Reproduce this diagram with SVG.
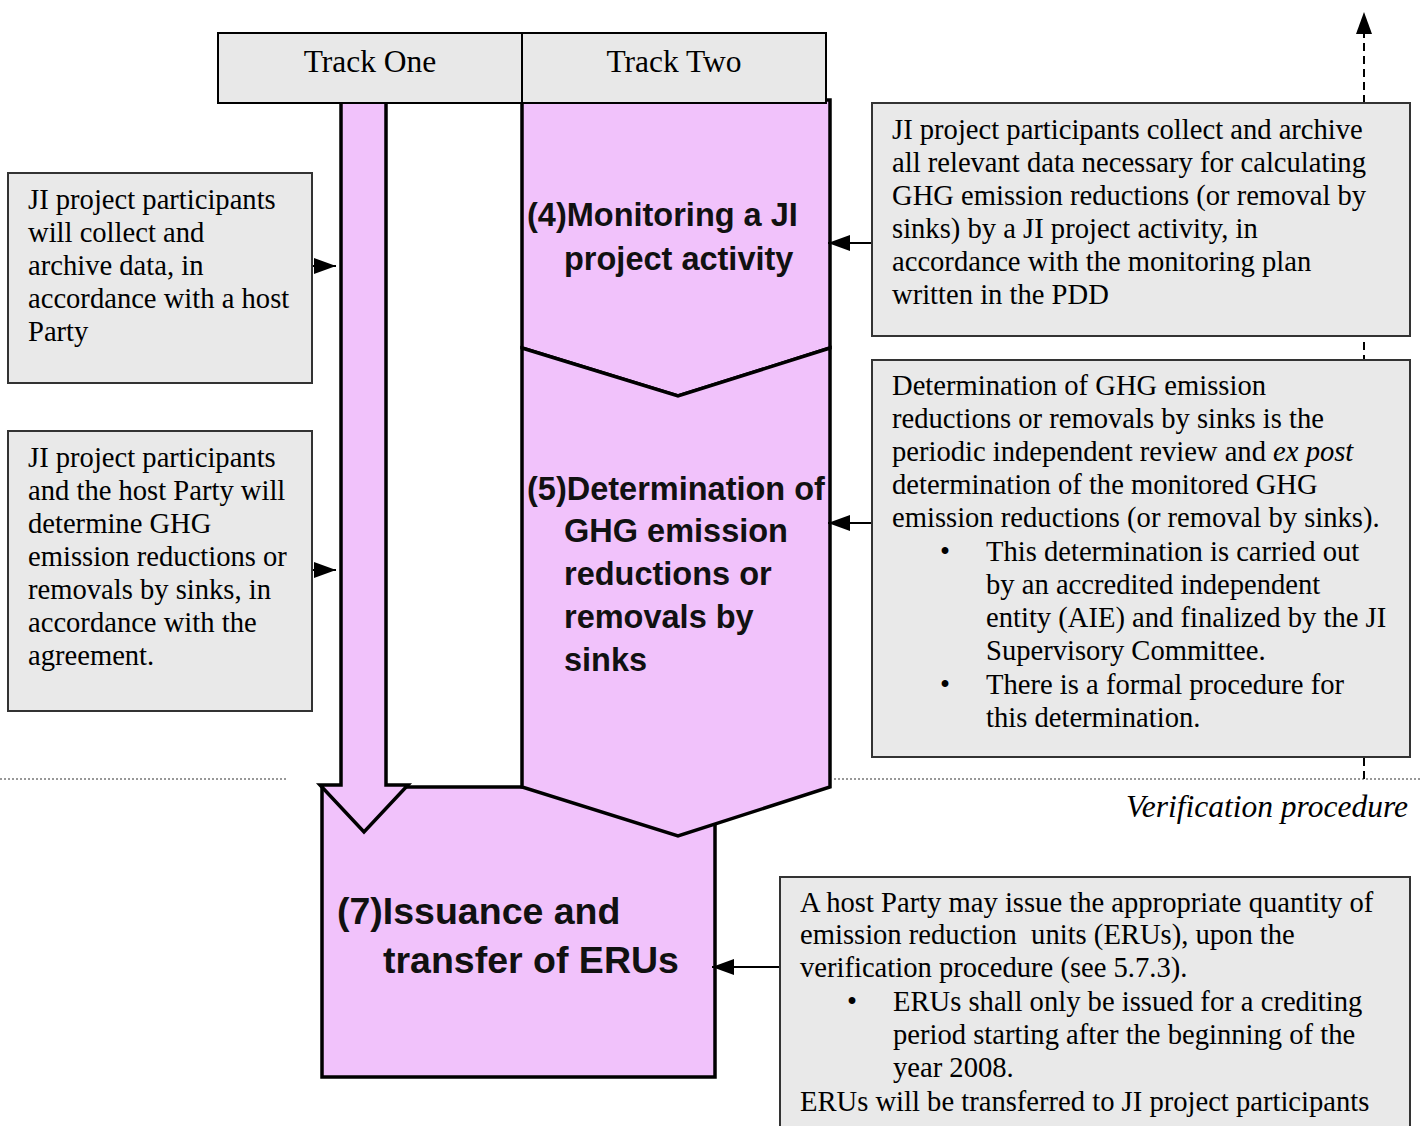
<svg xmlns="http://www.w3.org/2000/svg" width="1420" height="1126" viewBox="0 0 1420 1126">
  <style>
    .note { fill: #e9e9e9; stroke: #333; stroke-width: 2; }
    .stage { fill: #f1c2fb; stroke: #000; stroke-width: 3.5; stroke-linejoin: miter; }
    .serif { font-family: "Liberation Serif", "Times New Roman", serif; font-size: 28.6px; fill: #000; }
    .bold { font-family: "Liberation Sans", Arial, sans-serif; font-size: 32.5px; font-weight: bold; fill: #111; }
    .big { font-size: 37.5px; }
    .title { font-size: 31.5px; }
    .link { stroke: #000; stroke-width: 2; fill: none; }
    .dots { stroke: #777; stroke-width: 1.5; stroke-dasharray: 2 2; fill: none; }
  </style>
  <defs>
    <marker id="head" viewBox="0 0 22 16" refX="22" refY="8" markerWidth="22" markerHeight="16" markerUnits="userSpaceOnUse" orient="auto">
      <path d="M0,0 L22,8 L0,16 Z" fill="#000"/>
    </marker>
  </defs>

  <rect width="1420" height="1126" fill="#fff"/>

  <!-- verification boundary -->
  <g id="boundary">
    <line class="dots" x1="0" y1="779" x2="287" y2="779"/>
    <line class="dots" x1="834" y1="779" x2="1420" y2="779"/>
    <text class="serif title" x="1408" y="817" text-anchor="end" font-style="italic">Verification procedure</text>
  </g>

  <!-- (7) issuance -->
  <g id="issuance">
    <rect class="stage" x="322" y="787" width="393" height="290"/>
    <text class="bold big">
      <tspan x="337" y="924">(7)Issuance and</tspan>
      <tspan x="383" y="973">transfer of ERUs</tspan>
    </text>
  </g>

  <!-- Track One flow arrow -->
  <g id="track-one-arrow">
    <polygon class="stage" points="341,100 386,100 386,785 408,785 364,832 320,785 341,785"/>
  </g>

  <!-- (4) monitoring -->
  <g id="monitoring">
    <polygon class="stage" points="522,100 830,100 830,348 678,396 522,348"/>
    <text class="bold">
      <tspan x="527" y="226">(4)Monitoring a JI</tspan>
      <tspan x="564" y="270">project activity</tspan>
    </text>
  </g>

  <!-- (5) determination -->
  <g id="determination">
    <polygon class="stage" points="522,348 678,396 830,348 830,787 678,836 522,787"/>
    <text class="bold">
      <tspan x="527" y="500">(5)Determination of</tspan>
      <tspan x="564" y="542">GHG emission</tspan>
      <tspan x="564" y="585">reductions or</tspan>
      <tspan x="564" y="628">removals by</tspan>
      <tspan x="564" y="671">sinks</tspan>
    </text>
  </g>

  <!-- track header -->
  <g id="header">
    <rect x="218" y="33" width="608" height="70" fill="#e8e8e8" stroke="#000" stroke-width="2"/>
    <line x1="522" y1="33" x2="522" y2="103" stroke="#000" stroke-width="2"/>
    <text class="serif title" x="370" y="72" text-anchor="middle">Track One</text>
    <text class="serif title" x="674" y="72" text-anchor="middle">Track Two</text>
  </g>

  <!-- connectors -->
  <g id="connectors">
    <line class="link" x1="1364" y1="779" x2="1364" y2="12" stroke-dasharray="8 5" marker-end="url(#head)"/>
    <line class="link" x1="312" y1="266" x2="336" y2="266" marker-end="url(#head)"/>
    <line class="link" x1="312" y1="570" x2="336" y2="570" marker-end="url(#head)"/>
    <line class="link" x1="872" y1="243" x2="828" y2="243" marker-end="url(#head)"/>
    <line class="link" x1="872" y1="523" x2="828" y2="523" marker-end="url(#head)"/>
    <line class="link" x1="780" y1="967" x2="712" y2="967" marker-end="url(#head)"/>
  </g>

  <!-- Track One notes -->
  <g id="note-collect">
    <rect class="note" x="8" y="173" width="304" height="210"/>
    <text class="serif">
      <tspan x="28" y="209">JI project participants</tspan>
      <tspan x="28" y="242">will collect and</tspan>
      <tspan x="28" y="275">archive data, in</tspan>
      <tspan x="28" y="308">accordance with a host</tspan>
      <tspan x="28" y="341">Party</tspan>
    </text>
  </g>

  <g id="note-determine">
    <rect class="note" x="8" y="431" width="304" height="280"/>
    <text class="serif">
      <tspan x="28" y="467">JI project participants</tspan>
      <tspan x="28" y="500">and the host Party will</tspan>
      <tspan x="28" y="533">determine GHG</tspan>
      <tspan x="28" y="566">emission reductions or</tspan>
      <tspan x="28" y="599">removals by sinks, in</tspan>
      <tspan x="28" y="632">accordance with the</tspan>
      <tspan x="28" y="665">agreement.</tspan>
    </text>
  </g>

  <!-- Track Two notes -->
  <g id="note-monitoring">
    <rect class="note" x="872" y="103" width="538" height="233"/>
    <text class="serif">
      <tspan x="892" y="139">JI project participants collect and archive</tspan>
      <tspan x="892" y="172">all relevant data necessary for calculating</tspan>
      <tspan x="892" y="205">GHG emission reductions (or removal by</tspan>
      <tspan x="892" y="238">sinks) by a JI project activity, in</tspan>
      <tspan x="892" y="271">accordance with the monitoring plan</tspan>
      <tspan x="892" y="304">written in the PDD</tspan>
    </text>
  </g>

  <g id="note-determination">
    <rect class="note" x="872" y="360" width="538" height="397"/>
    <text class="serif">
      <tspan x="892" y="395">Determination of GHG emission</tspan>
      <tspan x="892" y="428">reductions or removals by sinks is the</tspan>
      <tspan x="892" y="461">periodic independent review and <tspan font-style="italic">ex post</tspan></tspan>
      <tspan x="892" y="494">determination of the monitored GHG</tspan>
      <tspan x="892" y="527">emission reductions (or removal by sinks).</tspan>
      <tspan x="940" y="561">•</tspan>
      <tspan x="986" y="561">This determination is carried out</tspan>
      <tspan x="986" y="594">by an accredited independent</tspan>
      <tspan x="986" y="627">entity (AIE) and finalized by the JI</tspan>
      <tspan x="986" y="660">Supervisory Committee.</tspan>
      <tspan x="940" y="694">•</tspan>
      <tspan x="986" y="694">There is a formal procedure for</tspan>
      <tspan x="986" y="727">this determination.</tspan>
    </text>
  </g>

  <g id="note-issuance">
    <rect class="note" x="780" y="877" width="630" height="270"/>
    <text class="serif">
      <tspan x="800" y="912">A host Party may issue the appropriate quantity of</tspan>
      <tspan x="800" y="944">emission reduction&#160; units (ERUs), upon the</tspan>
      <tspan x="800" y="977">verification procedure (see 5.7.3).</tspan>
      <tspan x="847" y="1011">•</tspan>
      <tspan x="893" y="1011">ERUs shall only be issued for a crediting</tspan>
      <tspan x="893" y="1044">period starting after the beginning of the</tspan>
      <tspan x="893" y="1077">year 2008.</tspan>
      <tspan x="800" y="1111">ERUs will be transferred to JI project participants</tspan>
    </text>
  </g>
</svg>
